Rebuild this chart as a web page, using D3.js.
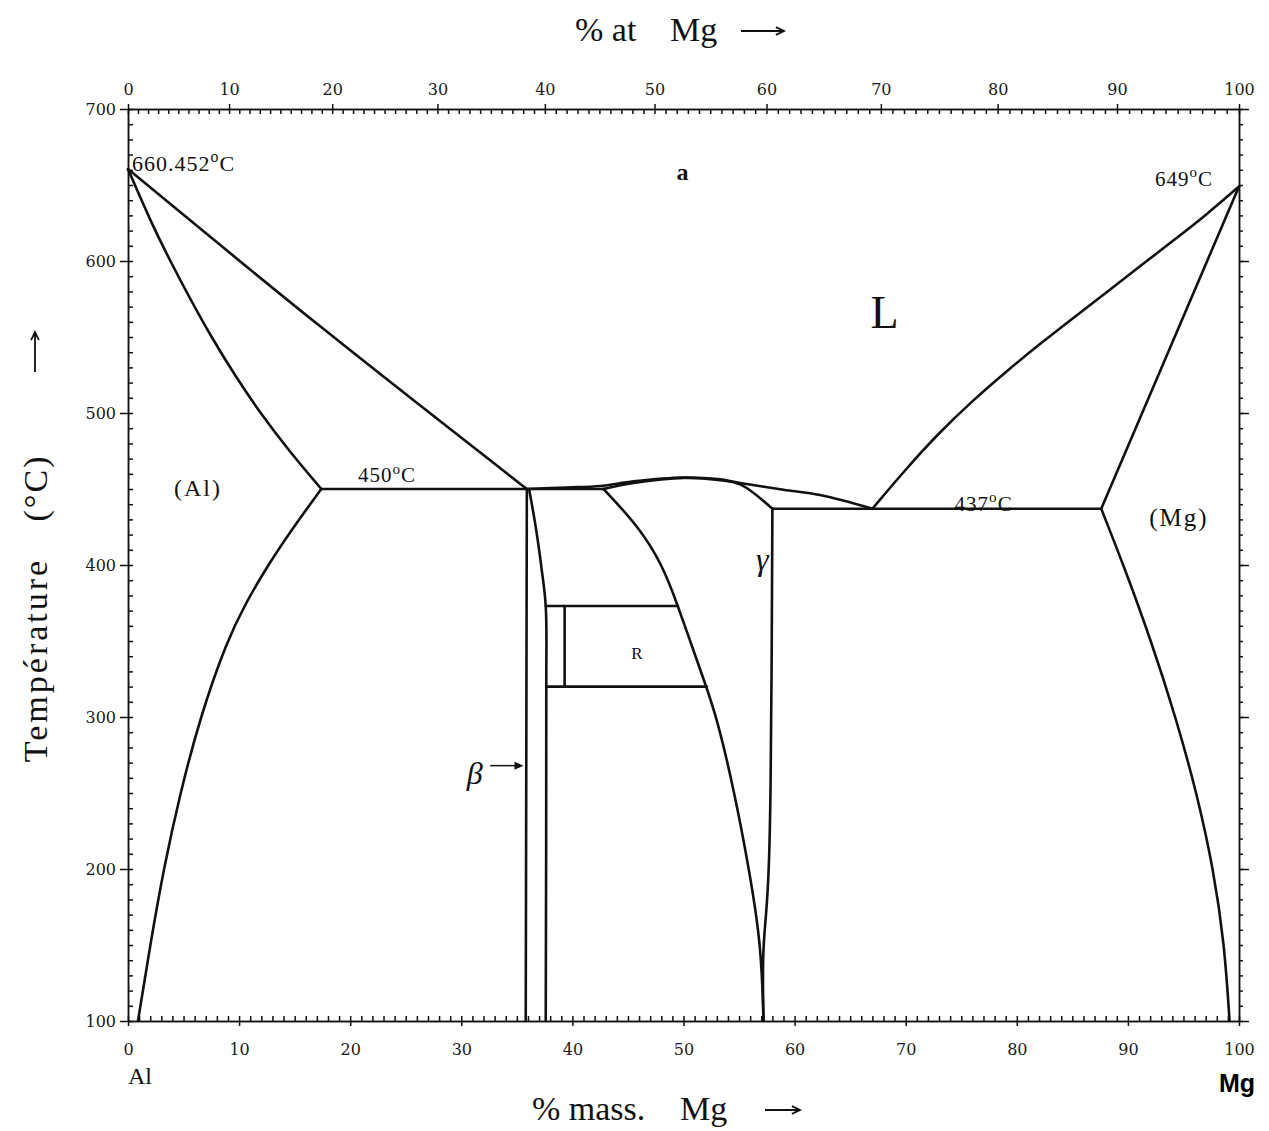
<!DOCTYPE html>
<html>
<head>
<meta charset="utf-8">
<script src="https://cdn.jsdelivr.net/npm/d3@7"></script>
<style>
  body { margin: 0; background: #fff; }
  .tick text { font-family: "DejaVu Serif", serif; font-size: 16px; fill: #1a1a1a; }
  .axis path, .axis line { stroke: #111; stroke-width: 1.5; }
  .phase { fill: none; stroke: #111; stroke-width: 2.6; stroke-linejoin: round; stroke-linecap: round; }
  .lbl { font-family: "Liberation Serif", serif; fill: #111; }
</style>
</head>
<body>
<svg id="chart" width="1269" height="1131"></svg>
<script>
// Al–Mg equilibrium phase diagram: composition in mass % Mg (bottom) and at. % Mg (top)

// ---- axis tick values ----
const massTicks = [0, 10, 20, 30, 40, 50, 60, 70, 80, 90, 100];
const atTicks = [0, 10, 20, 30, 40, 50, 60, 70, 80, 90, 100];
const tempTicks = [100, 200, 300, 400, 500, 600, 700];

// ---- phase boundaries, [mass % Mg, temperature °C] ----
const liquidusAl   = [[0, 660.452], [17.3, 557], [35.9, 450]];
const solidusAl    = [[0, 660.452], [2.1, 625], [3.8, 600], [5.6, 575], [7.5, 550], [9.6, 525], [11.9, 500], [14.5, 475], [17.4, 450]];
const solvusAl     = [[17.4, 450], [14.9, 425], [12.6, 400], [10.6, 375], [8.9, 350], [6.5, 300], [4.7, 250], [3.2, 200], [2.0, 150], [0.9, 100]];
const eutectic450  = [[17.4, 450], [42.8, 450]];
const betaLeft     = [[35.9, 450], [35.8, 100]];
const betaRight    = [[36.1, 450], [36.7, 425], [37.2, 399], [37.6, 373], [37.65, 320], [37.6, 100]];
const rTop         = [[37.6, 373], [49.5, 373]];
const rBottom      = [[37.65, 320], [52.1, 320]];
const rInner       = [[39.3, 373], [39.3, 320]];
const betaGammaArc = [[42.8, 450], [46.0, 425], [48.1, 400], [49.4, 375], [50.6, 350], [51.8, 325], [53.0, 300], [54.6, 250], [55.9, 200], [57.0, 150], [57.2, 100]];
const gammaLeft    = [[58.0, 437], [57.95, 350], [57.85, 250], [57.7, 200], [57.45, 170], [57.1, 145], [57.2, 100]];
const liquidusMid  = [[35.9, 450], [39.5, 451], [42.5, 452], [45.5, 455], [50, 457.5], [53.1, 456.5], [55.1, 454], [59, 449.5], [62.3, 446], [67, 437]];
const solidusGamma = [[42.8, 450], [45.5, 454], [50, 457.3], [53.1, 456], [55.1, 453], [58.0, 437]];
const eutectic437  = [[58.0, 437], [87.6, 437]];
const liquidusMg   = [[67, 437], [70, 463], [73, 487], [76, 508], [79, 527], [82, 545], [85, 562], [88, 579], [91, 596], [94, 613], [97, 630], [100, 649]];
const solidusMg    = [[87.6, 437], [100, 649]];
const solvusMg     = [[87.6, 437], [89.6, 400], [92.1, 350], [94.3, 300], [96.2, 250], [97.7, 200], [98.7, 150], [99.15, 100]];

const smoothLines = [solvusAl, solidusAl, betaGammaArc, gammaLeft, liquidusMg, solvusMg];
const curvedLines = [liquidusAl, betaRight, liquidusMid, solidusGamma];
const straightLines = [eutectic450, betaLeft, rTop, rBottom, rInner, eutectic437, solidusMg];

// ---- scales ----
const x = d3.scaleLinear().domain([0, 100]).range([128, 1239]);
const y = d3.scaleLinear().domain([100, 700]).range([1021, 109]);

// at. % -> mass % conversion (Al 26.982, Mg 24.305)
const M_AL = 26.982, M_MG = 24.305;
const atToMass = a => 100 * a * M_MG / (a * M_MG + (100 - a) * M_AL);
const atSteps = d3.range(0, 101, 1);
const xAt = d3.scaleLinear().domain(atSteps).range(atSteps.map(a => x(atToMass(a))));

const svg = d3.select("#chart");
svg.append("rect").attr("width", 1269).attr("height", 1131).attr("fill", "#fff");

// ---- axes ----
function addAxis(axis, transform) {
  return svg.append("g").attr("class", "axis").attr("transform", transform).call(axis);
}
const massMinor = d3.range(0, 101, 1);
const tempMinor = d3.range(100, 701, 10);

// bottom
addAxis(d3.axisBottom(x).tickValues(massMinor).tickSizeInner(-5).tickSizeOuter(0).tickFormat(""), `translate(0,${y(100)})`);
addAxis(d3.axisBottom(x).tickValues(massTicks).tickSizeInner(5).tickSizeOuter(0).tickPadding(18).tickFormat(d3.format("d")), `translate(0,${y(100)})`);
// top (at. %)
addAxis(d3.axisTop(xAt).tickValues(atSteps).tickSizeInner(-5).tickSizeOuter(0).tickFormat(""), `translate(0,${y(700)})`);
addAxis(d3.axisTop(xAt).tickValues(atTicks).tickSizeInner(5).tickSizeOuter(0).tickPadding(9).tickFormat(d3.format("d")), `translate(0,${y(700)})`);
// left
addAxis(d3.axisLeft(y).tickValues(tempMinor).tickSizeInner(-5).tickSizeOuter(0).tickFormat(""), `translate(${x(0)},0)`);
addAxis(d3.axisLeft(y).tickValues(tempTicks).tickSizeInner(8).tickSizeOuter(0).tickPadding(4).tickFormat(d3.format("d")), `translate(${x(0)},0)`);
// right
addAxis(d3.axisRight(y).tickValues(tempMinor).tickSizeInner(4).tickSizeOuter(0).tickFormat(""), `translate(${x(100)},0)`);
addAxis(d3.axisRight(y).tickValues(tempTicks).tickSizeInner(10).tickSizeOuter(0).tickFormat(""), `translate(${x(100)},0)`);

// ---- phase boundary lines ----
const px = d => x(d[0]), py = d => y(d[1]);
const smooth = d3.line().x(px).y(py).curve(d3.curveBasis);
const curved = d3.line().x(px).y(py).curve(d3.curveCatmullRom.alpha(0.5));
const straight = d3.line().x(px).y(py);

svg.append("g").selectAll("path").data(smoothLines).join("path").attr("class", "phase").attr("d", smooth);
svg.append("g").selectAll("path").data(curvedLines).join("path").attr("class", "phase").attr("d", curved);
svg.append("g").selectAll("path").data(straightLines).join("path").attr("class", "phase").attr("d", straight);

// ---- annotations ----
function tempLabel(lx, ly, value, size) {
  const t = svg.append("text").attr("class", "lbl").attr("x", lx).attr("y", ly)
    .attr("font-size", size).attr("letter-spacing", 1);
  t.append("tspan").text(value);
  t.append("tspan").attr("dy", -size * 0.4).attr("font-size", size * 0.72).text("o");
  t.append("tspan").attr("dy", size * 0.4).text("C");
  return t;
}
tempLabel(x(0) + 4, y(660.452) + 2, "660.452", 22);
tempLabel(1155, y(649) - 1, "649", 21);
tempLabel(x(20.7), y(450) - 7, "450", 21);
tempLabel(x(74.4), y(437) + 2, "437", 21);

function label(txt, lx, ly, size, opts = {}) {
  return svg.append("text").attr("class", "lbl").attr("x", lx).attr("y", ly)
    .attr("font-size", size).attr("text-anchor", opts.anchor || "middle")
    .attr("dominant-baseline", "central")
    .attr("letter-spacing", opts.spacing || null)
    .attr("font-style", opts.italic ? "italic" : null)
    .attr("font-weight", opts.bold ? "bold" : null)
    .text(txt);
}
label("a", x(49.9), y(658.6), 24, { bold: true });
label("L", x(68.1), y(566), 46);
label("(Al)", x(6.3), y(450.5), 24, { spacing: 2 });
label("(Mg)", x(94.6), y(431), 25, { spacing: 2 });
label("γ", x(57.1), y(404), 32, { italic: true });
label("R", x(45.8), y(342), 17);
label("β", x(31.2), y(263), 32, { italic: true });

// arrow pointing at the β phase line
svg.append("line").attr("x1", x(32.6)).attr("y1", y(268)).attr("x2", x(35.2)).attr("y2", y(268))
  .attr("stroke", "#111").attr("stroke-width", 1.5);
svg.append("path")
  .attr("d", `M${x(35.6)},${y(268)} l-9,-4 l0,8 z`).attr("fill", "#111");

// plain arrow used in the axis titles
function arrow(x1, y1, x2, y2) {
  const a = Math.atan2(y2 - y1, x2 - x1), h = 9;
  const p = d3.path();
  p.moveTo(x1, y1); p.lineTo(x2, y2);
  p.moveTo(x2 - h * Math.cos(a - 0.45), y2 - h * Math.sin(a - 0.45));
  p.lineTo(x2, y2);
  p.lineTo(x2 - h * Math.cos(a + 0.45), y2 - h * Math.sin(a + 0.45));
  svg.append("path").attr("d", p.toString()).attr("fill", "none")
    .attr("stroke", "#111").attr("stroke-width", 1.8);
}

// axis titles
svg.append("text").attr("class", "lbl").attr("x", 575).attr("y", 41).attr("font-size", 34).text("% at");
svg.append("text").attr("class", "lbl").attr("x", 670).attr("y", 41).attr("font-size", 34).text("Mg");
arrow(741, 31, 784, 31);

svg.append("text").attr("class", "lbl").attr("x", 532).attr("y", 1120).attr("font-size", 34).text("% mass.");
svg.append("text").attr("class", "lbl").attr("x", 680).attr("y", 1120).attr("font-size", 34).text("Mg");
arrow(765, 1110, 800, 1110);

svg.append("text").attr("class", "lbl").attr("transform", "translate(47,660) rotate(-90)")
  .attr("font-size", 34).attr("text-anchor", "middle").attr("letter-spacing", 3).text("Température");
svg.append("text").attr("class", "lbl").attr("transform", "translate(47,488) rotate(-90)")
  .attr("font-size", 34).attr("text-anchor", "middle").attr("letter-spacing", 2).text("(°C)");
arrow(35, 372, 35, 332);

svg.append("text").attr("class", "lbl").attr("x", 128).attr("y", 1084).attr("font-size", 24).text("Al");
svg.append("text").attr("x", 1255).attr("y", 1092).attr("text-anchor", "end")
  .attr("font-family", "Liberation Sans, Arial, sans-serif").attr("font-weight", "bold")
  .attr("font-size", 25).attr("fill", "#000").text("Mg");
</script>
</body>
</html>
